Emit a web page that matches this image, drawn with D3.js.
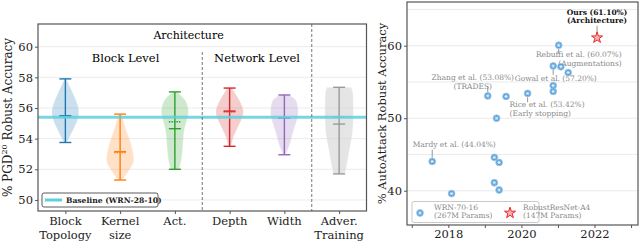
<!DOCTYPE html>
<html>
<head>
<meta charset="utf-8">
<script src="https://cdn.jsdelivr.net/npm/d3@7"></script>
<style>
  body { margin: 0; background: #fff; }
  svg { display: block; font-family: "DejaVu Serif", serif; }
</style>
</head>
<body>
<div id="chart"></div>
<script>
// ---- left panel: violins ----
const categories = ["Block\nTopology", "Kernel\nsize", "Act.", "Depth", "Width", "Adver.\nTraining"];
const violinColors = ["#1f77b4", "#ff7f0e", "#2ca02c", "#d62728", "#9467bd", "#8c8c8c"];
const violinMin = [53.75, 51.3, 52.0, 53.5, 52.95, 51.7];
const violinMax = [57.9, 55.6, 57.05, 57.3, 56.85, 57.35];
const violinMedian = [55.5, 53.15, 54.65, 55.8, 55.35, 54.95];
const violinMean = [55.45, 53.1, 55.1, 55.75, 55.35, 55.4];
// density profiles: [value, relative half width]
const violinProfiles = [
  [[53.75, 0.1], [54.0, 0.25], [54.6, 0.55], [55.2, 0.9], [55.9, 1.0], [56.5, 0.75], [57.2, 0.42], [57.6, 0.2], [57.9, 0.08]],
  [[51.3, 0.15], [51.75, 0.5], [52.3, 0.9], [52.6, 1.0], [53.2, 0.9], [53.9, 0.7], [54.6, 0.4], [55.2, 0.25], [55.6, 0.1]],
  [[52.0, 0.3], [52.6, 0.47], [53.5, 0.57], [54.6, 0.62], [55.3, 0.9], [55.9, 1.0], [56.5, 0.78], [56.8, 0.45], [57.05, 0.15]],
  [[53.5, 0.1], [53.9, 0.2], [54.35, 0.36], [55.0, 0.72], [55.5, 0.95], [55.9, 1.0], [56.4, 0.75], [56.9, 0.45], [57.3, 0.15]],
  [[52.95, 0.1], [53.3, 0.25], [53.7, 0.42], [54.6, 0.65], [55.2, 0.9], [55.7, 1.0], [56.5, 0.9], [56.7, 0.6], [56.85, 0.3]],
  [[51.7, 0.4], [52.2, 0.53], [53.5, 0.77], [54.3, 0.95], [55.2, 1.0], [56.5, 1.0], [57.1, 0.97], [57.35, 0.85]]
];
const baselineValue = 55.4;
const leftYTicks = [50, 52, 54, 56, 58, 60];

// ---- right panel: scatter ----
const pointYears = [2017.56, 2018.09, 2019.08, 2019.32, 2019.58, 2019.26, 2019.39, 2019.26, 2019.39, 2020.17, 2020.87, 2020.87, 2020.87, 2021.08, 2021.02, 2021.28];
const pointAcc = [44.04, 39.6, 53.08, 50.0, 53.0, 44.6, 43.9, 41.1, 40.1, 53.42, 54.5, 53.7, 57.2, 57.1, 60.07, 56.3];
const oursYear = 2022.07;
const oursAcc = 61.1;
const rightYTicks = [40, 50, 60];
const rightGrid = [40, 45, 50, 55, 60, 65];
const rightXTicks = [2017, 2018, 2019, 2020, 2021, 2022, 2023];

// annotations: which point, text lines
const notes = [
  { i: 0, lines: ["Mardy et al. (44.04%)"], anchor: "middle", dx: 22, dy: -14, len: 8 },
  { i: 2, lines: ["Zhang et al. (53.08%)", "(TRADES)"], anchor: "middle", dx: -15, dy: -15.5, len: 5 },
  { i: 9, lines: ["Rice et al. (53.42%)", "(Early stopping)"], anchor: "start", dx: -18, dy: 14, len: 5 },
  { i: 12, lines: ["Gowal et al. (57.20%)"], anchor: "middle", dx: 2.5, dy: 14.5, len: 5 },
  { i: 14, lines: ["Rebuffi et al. (60.07%)", "(Augmentations)"], anchor: "end", dx: 63, dy: 12, len: 4 }
];

const W = 640, H = 242;
const svg = d3.select("#chart").append("svg").attr("width", W).attr("height", H);

// ================= left panel =================
const L = { left: 38, right: 366.5, top: 24, bottom: 211 };
const xL = d3.scaleLinear().domain([-0.5, 5.5]).range([L.left, L.right]);
const yL = d3.scaleLinear().domain([49.28, 61.48]).range([L.bottom, L.top]);
const halfMax = (xL(1) - xL(0)) * 0.26;

const gL = svg.append("g");

gL.selectAll(".grid")
  .data(leftYTicks)
  .join("line")
  .attr("x1", L.left).attr("x2", L.right)
  .attr("y1", (d) => yL(d)).attr("y2", (d) => yL(d))
  .attr("stroke", "#e6e6e6").attr("stroke-width", 0.8);

const area = d3.area()
  .y((p) => yL(p[0]))
  .curve(d3.curveBasis);

categories.forEach((c, i) => {
  const cx = xL(i);
  const col = violinColors[i];
  const prof = violinProfiles[i];
  gL.append("path")
    .datum(prof)
    .attr("d", area.x0((p) => cx - p[1] * halfMax).x1((p) => cx + p[1] * halfMax))
    .attr("fill", i == 5 ? "#d4d4d4" : col)
    .attr("fill-opacity", i == 5 ? 0.6 : 0.23)
    .attr("stroke", "#fff")
    .attr("stroke-width", 0.6)
    .attr("stroke-dasharray", "1,1");

  const cap = 6;
  const g = gL.append("g").attr("stroke", i == 5 ? "#9a9a9a" : col).attr("stroke-width", 1.4);
  g.append("line").attr("x1", cx).attr("x2", cx).attr("y1", yL(violinMin[i])).attr("y2", yL(violinMax[i]));
  [violinMin[i], violinMax[i], violinMedian[i]].forEach((v) => {
    g.append("line").attr("x1", cx - cap).attr("x2", cx + cap).attr("y1", yL(v)).attr("y2", yL(v));
  });
  g.append("line")
    .attr("x1", cx - cap).attr("x2", cx + cap)
    .attr("y1", yL(violinMean[i])).attr("y2", yL(violinMean[i]))
    .attr("stroke-dasharray", "1.5,1");
});

// baseline
gL.append("line")
  .attr("x1", L.left).attr("x2", L.right)
  .attr("y1", yL(baselineValue)).attr("y2", yL(baselineValue))
  .attr("stroke", "#5fd0dc").attr("stroke-width", 3).attr("stroke-opacity", 0.85);

// separators
gL.append("line")
  .attr("x1", xL(2.5)).attr("x2", xL(2.5))
  .attr("y1", 52).attr("y2", L.bottom)
  .attr("stroke", "#666").attr("stroke-width", 0.9).attr("stroke-dasharray", "3,2");
gL.append("line")
  .attr("x1", xL(4.5)).attr("x2", xL(4.5))
  .attr("y1", L.top).attr("y2", L.bottom)
  .attr("stroke", "#666").attr("stroke-width", 0.9).attr("stroke-dasharray", "3,2");

// headings
gL.append("text").text("Architecture")
  .attr("x", xL(2.25)).attr("y", 39)
  .attr("text-anchor", "middle").attr("font-size", 11);
gL.append("text").text("Block Level")
  .attr("x", xL(1.1)).attr("y", 62)
  .attr("text-anchor", "middle").attr("font-size", 11.5);
gL.append("text").text("Network Level")
  .attr("x", xL(3.5)).attr("y", 62)
  .attr("text-anchor", "middle").attr("font-size", 11.5);

// frame
gL.append("rect")
  .attr("x", L.left).attr("y", L.top)
  .attr("width", L.right - L.left).attr("height", L.bottom - L.top)
  .attr("fill", "none").attr("stroke", "#555").attr("stroke-width", 1.2);

// axes
const yAxisL = gL.append("g")
  .attr("transform", `translate(${L.left},0)`)
  .call(d3.axisLeft(yL).tickValues(leftYTicks).tickSize(3).tickPadding(2));
yAxisL.select(".domain").remove();
yAxisL.selectAll("text").attr("font-size", 11.5).attr("font-family", "DejaVu Serif").attr("fill", "#222");
yAxisL.selectAll("line").attr("stroke", "#555");

const xAxisL = gL.append("g")
  .attr("transform", `translate(0,${L.bottom})`)
  .call(d3.axisBottom(xL).tickValues(d3.range(categories.length)).tickSize(3).tickFormat(""));
xAxisL.select(".domain").remove();
xAxisL.selectAll("line").attr("stroke", "#555");

gL.selectAll(".catlabel")
  .data(categories)
  .join("text")
  .attr("text-anchor", "middle")
  .attr("font-size", 11.5)
  .attr("fill", "#222")
  .each(function (d, i) {
    d3.select(this).selectAll("tspan")
      .data(d.split("\n"))
      .join("tspan")
      .attr("x", xL(i))
      .attr("y", (t, j) => 225 + j * 14)
      .text((t) => t);
  });

// y label
const yLab = gL.append("text")
  .attr("transform", `translate(12,${(L.top + L.bottom) / 2}) rotate(-90)`)
  .attr("text-anchor", "middle").attr("font-size", 12).attr("fill", "#222");
yLab.append("tspan").text("% PGD");
yLab.append("tspan").text("20").attr("font-size", 8).attr("dy", -5);
yLab.append("tspan").text(" Robust Accuracy").attr("dy", 5);

// legend
const legL = gL.append("g");
legL.append("rect")
  .attr("x", 42).attr("y", 193).attr("width", 116).attr("height", 14)
  .attr("rx", 2).attr("fill", "#fff").attr("stroke", "#333").attr("stroke-width", 0.8);
legL.append("line")
  .attr("x1", 45).attr("x2", 62).attr("y1", 200).attr("y2", 200)
  .attr("stroke", "#5fd0dc").attr("stroke-width", 3);
legL.append("text").text("Baseline (WRN-28-10)")
  .attr("x", 66).attr("y", 202.8)
  .attr("font-size", 7.6).attr("font-weight", "bold").attr("fill", "#222");

// ================= right panel =================
const R = { left: 407, right: 638, top: 2, bottom: 225 };
const xR = d3.scaleLinear().domain([2016.87, 2023.19]).range([R.left, R.right]);
const yR = d3.scaleLinear().domain([35.27, 66.03]).range([R.bottom, R.top]);

const gR = svg.append("g");

gR.selectAll(".grid")
  .data(rightGrid)
  .join("line")
  .attr("x1", R.left).attr("x2", R.right)
  .attr("y1", (d) => yR(d)).attr("y2", (d) => yR(d))
  .attr("stroke", "#e6e6e6").attr("stroke-width", 0.8);

// annotations
const noteColor = "#8a8a8a";
const noteSize = 7.5;
const noteLead = 8.6;
notes.forEach((n) => {
  const px = xR(pointYears[n.i]);
  const py = yR(pointAcc[n.i]);
  const s = n.dy < 0 ? -1 : 1;
  gR.append("line")
    .attr("x1", px).attr("x2", px)
    .attr("y1", py + s * 3.8).attr("y2", py + s * (3.8 + n.len))
    .attr("stroke", noteColor).attr("stroke-width", 0.9);
  gR.append("text")
    .attr("text-anchor", n.anchor)
    .attr("font-size", noteSize).attr("fill", noteColor)
    .selectAll("tspan")
    .data(n.lines)
    .join("tspan")
    .attr("x", px + n.dx)
    .attr("y", (t, j) => py + n.dy + j * noteLead)
    .text((t) => t);
});

// ours annotation
const ox = xR(oursYear), oy = yR(oursAcc);
gR.append("line")
  .attr("x1", ox).attr("x2", ox).attr("y1", oy - 12).attr("y2", oy - 5)
  .attr("stroke", noteColor).attr("stroke-width", 0.9);
gR.append("text")
  .attr("text-anchor", "middle").attr("font-size", noteSize).attr("font-weight", "bold").attr("fill", "#111")
  .selectAll("tspan")
  .data(["Ours (61.10%)", "(Architecture)"])
  .join("tspan")
  .attr("x", ox).attr("y", (t, j) => 14.5 + j * noteLead)
  .text((t) => t);

// marker drawers
function blueMarker(sel, x, y) {
  const g = sel.append("g").attr("transform", `translate(${x},${y})`);
  g.append("circle").attr("r", 3.4).attr("fill", "#3d8fd1").attr("fill-opacity", 0.85)
    .attr("stroke", "#9cc8ea").attr("stroke-width", 0.8);
  [0, 60, 120].forEach((a) => {
    g.append("line").attr("x1", -2).attr("x2", 2).attr("y1", 0).attr("y2", 0)
      .attr("transform", `rotate(${a})`).attr("stroke", "#fff").attr("stroke-width", 0.6);
  });
}
function redStar(sel, x, y) {
  sel.append("path")
    .attr("d", d3.symbol(d3.symbolStar, 38)())
    .attr("transform", `translate(${x},${y})`)
    .attr("fill", "#f7b3b3").attr("stroke", "#e8262a").attr("stroke-width", 1);
}

pointYears.forEach((yr, i) => blueMarker(gR, xR(yr), yR(pointAcc[i])));
redStar(gR, ox, oy);

// frame
gR.append("rect")
  .attr("x", R.left).attr("y", R.top)
  .attr("width", R.right - R.left).attr("height", R.bottom - R.top)
  .attr("fill", "none").attr("stroke", "#555").attr("stroke-width", 1.2);

const yAxisR = gR.append("g")
  .attr("transform", `translate(${R.left},0)`)
  .call(d3.axisLeft(yR).tickValues(rightYTicks).tickSize(3).tickPadding(2));
yAxisR.select(".domain").remove();
yAxisR.selectAll("text").attr("font-size", 11.5).attr("font-family", "DejaVu Serif").attr("fill", "#222");
yAxisR.selectAll("line").attr("stroke", "#555");

const xAxisR = gR.append("g")
  .attr("transform", `translate(0,${R.bottom})`)
  .call(d3.axisBottom(xR).tickValues(rightXTicks).tickSize(3).tickPadding(2)
    .tickFormat((d) => (d % 2 == 0 ? d : "")));
xAxisR.select(".domain").remove();
xAxisR.selectAll("text").attr("font-size", 11.5).attr("font-family", "DejaVu Serif").attr("fill", "#222");
xAxisR.selectAll("line").attr("stroke", "#555");

gR.append("text").text("% AutoAttack Robust Accuracy")
  .attr("transform", `translate(386,${(R.top + R.bottom) / 2}) rotate(-90)`)
  .attr("text-anchor", "middle").attr("font-size", 11.5).attr("fill", "#222");

// legend
const legR = gR.append("g");
legR.append("rect")
  .attr("x", 412).attr("y", 201.5).attr("width", 127).attr("height", 21)
  .attr("rx", 2).attr("fill", "#fff").attr("stroke", "#bbb").attr("stroke-width", 0.8);
blueMarker(legR, 420, 213);
redStar(legR, 510, 213);
const legItems = [
  { x: 434, lines: ["WRN-70-16", "(267M Params)"] },
  { x: 523, lines: ["RobustResNet-A4", "(147M Params)"] }
];
legItems.forEach((it) => {
  legR.append("text").attr("font-size", noteSize).attr("fill", noteColor)
    .selectAll("tspan").data(it.lines).join("tspan")
    .attr("x", it.x).attr("y", (t, j) => 209.5 + j * 8.8).text((t) => t);
});
</script>
</body>
</html>
